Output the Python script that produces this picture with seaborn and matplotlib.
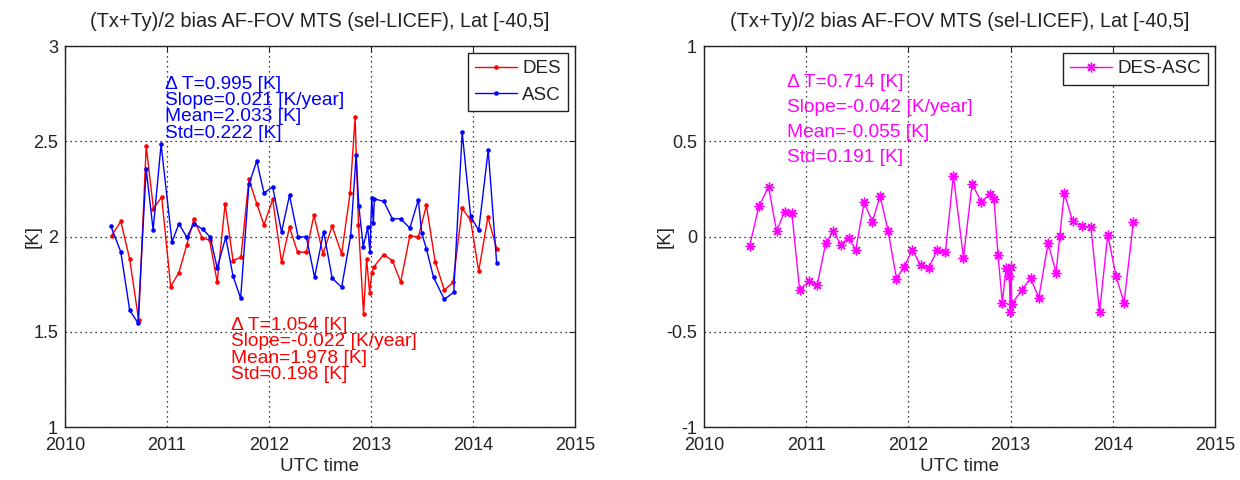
import matplotlib
matplotlib.use("Agg")
import matplotlib.pyplot as plt
import seaborn as sns
import pandas as pd

# ---------------- data ----------------
des_t = [2010.456, 2010.547, 2010.634, 2010.722, 2010.796, 2010.867, 2010.948,
         2011.036, 2011.117, 2011.194, 2011.262, 2011.346, 2011.417, 2011.492, 2011.570,
         2011.647, 2011.725, 2011.803, 2011.880, 2011.951,
         2012.036, 2012.123, 2012.201, 2012.280, 2012.366, 2012.440, 2012.530, 2012.619,
         2012.712, 2012.795, 2012.844, 2012.877, 2012.927, 2012.957, 2012.987,
         2013.007, 2013.026, 2013.123, 2013.209, 2013.291, 2013.381, 2013.464, 2013.543,
         2013.629, 2013.719, 2013.805, 2013.894, 2013.977,
         2014.056, 2014.146, 2014.235]
des_v = [2.005, 2.079, 1.882, 1.561, 2.475, 2.146, 2.207, 1.737, 1.811, 1.956,
         2.091, 1.991, 1.982, 1.761, 2.172, 1.874, 1.891, 2.300, 2.172, 2.061,
         2.195, 1.865, 2.049, 1.918, 1.918, 2.111, 1.909, 2.054, 1.909, 2.228,
         2.625, 2.061, 1.593, 1.882, 1.704, 1.807, 1.839, 1.905, 1.874, 1.761,
         2.005, 1.996, 2.163, 1.868, 1.719, 1.760, 2.149, 2.084, 1.818, 2.102,
         1.932]

asc_t = [2010.450, 2010.547, 2010.634, 2010.715, 2010.796, 2010.864, 2010.942,
         2011.049, 2011.117, 2011.194, 2011.265, 2011.353, 2011.424, 2011.492, 2011.576,
         2011.647, 2011.722, 2011.803, 2011.880, 2011.951,
         2012.036, 2012.123, 2012.201, 2012.285, 2012.366, 2012.447, 2012.536, 2012.619,
         2012.712, 2012.801, 2012.854, 2012.881, 2012.924, 2012.967, 2012.990,
         2013.007, 2013.023, 2013.033, 2013.126, 2013.209, 2013.291, 2013.381, 2013.464,
         2013.497, 2013.543, 2013.613, 2013.719, 2013.811, 2013.894, 2013.977,
         2014.056, 2014.149, 2014.232]
asc_v = [2.054, 1.919, 1.614, 1.546, 2.353, 2.035, 2.484, 1.972, 2.067, 1.996,
         2.067, 2.037, 1.996, 1.835, 1.996, 1.793, 1.675, 2.274, 2.396, 2.228,
         2.260, 2.023, 2.216, 1.998, 1.998, 1.786, 2.026, 1.782, 1.733, 2.005,
         2.426, 2.158, 1.947, 2.049, 1.918, 2.204, 2.070, 2.198, 2.184, 2.093,
         2.093, 2.044, 2.193, 2.019, 1.935, 1.786, 1.670, 1.707, 2.546, 2.105,
         2.032, 2.453, 1.861]

diff_t = [2010.446, 2010.537, 2010.632, 2010.710, 2010.788, 2010.860, 2010.935,
          2011.029, 2011.107, 2011.192, 2011.264, 2011.339, 2011.414, 2011.485, 2011.567,
          2011.648, 2011.723, 2011.801, 2011.883, 2011.958,
          2012.039, 2012.121, 2012.199, 2012.280, 2012.362, 2012.440, 2012.539, 2012.623,
          2012.714, 2012.799, 2012.838, 2012.877, 2012.919, 2012.955, 2012.987, 2012.997,
          2013.006, 2013.010, 2013.114, 2013.195, 2013.276, 2013.367, 2013.445, 2013.481,
          2013.526, 2013.607, 2013.698, 2013.786, 2013.870, 2013.951,
          2014.032, 2014.110, 2014.201]
diff_v = [-0.052, 0.159, 0.261, 0.028, 0.131, 0.122, -0.279, -0.235, -0.256, -0.033,
          0.028, -0.042, -0.007, -0.070, 0.179, 0.078, 0.214, 0.031, -0.221, -0.160,
          -0.070, -0.152, -0.164, -0.073, -0.082, 0.319, -0.111, 0.275, 0.183, 0.223,
          0.195, -0.099, -0.347, -0.166, -0.207, -0.395, -0.160, -0.355, -0.279, -0.218,
          -0.321, -0.035, -0.190, 0.005, 0.228, 0.080, 0.054, 0.049, -0.395, 0.009,
          -0.209, -0.348, 0.075]

title = "(Tx+Ty)/2 bias AF-FOV MTS (sel-LICEF), Lat [-40,5]"
xlabel = "UTC time"
ylabel = "[K]"
xticks = [2010, 2011, 2012, 2013, 2014, 2015]
yticks_left = [1, 1.5, 2, 2.5, 3]
yticks_right = [-1, -0.5, 0, 0.5, 1]
asc_stats = ["\u0394 T=0.995 [K]", "Slope=0.021 [K/year]", "Mean=2.033 [K]", "Std=0.222 [K]"]
des_stats = ["\u0394 T=1.054 [K]", "Slope=-0.022 [K/year]", "Mean=1.978 [K]", "Std=0.198 [K]"]
diff_stats = ["\u0394 T=0.714 [K]", "Slope=-0.042 [K/year]", "Mean=-0.055 [K]", "Std=0.191 [K]"]

# ---------------- style ----------------
sns.set_theme(style="white")
plt.rcParams["font.family"] = ["Liberation Sans", "DejaVu Sans"]
plt.rcParams["font.size"] = 13
plt.rcParams["axes.edgecolor"] = "#222222"
plt.rcParams["axes.linewidth"] = 1.0
plt.rcParams["text.color"] = "#222222"
plt.rcParams["xtick.color"] = "#222222"
plt.rcParams["ytick.color"] = "#222222"

fig = plt.figure(figsize=(12.4, 4.8), dpi=100)
axL = fig.add_axes([65 / 1240, 53 / 480, 510 / 1240, 381 / 480])
axR = fig.add_axes([704 / 1240, 53 / 480, 511 / 1240, 381 / 480])

df_des = pd.DataFrame({"t": des_t, "v": des_v})
df_asc = pd.DataFrame({"t": asc_t, "v": asc_v})
df_diff = pd.DataFrame({"t": diff_t, "v": diff_v})

sns.lineplot(data=df_des, x="t", y="v", ax=axL, sort=False, estimator=None,
             color="#ff0000", lw=1.0, marker="o", markersize=3.3, markeredgewidth=0,
             label="DES")
sns.lineplot(data=df_asc, x="t", y="v", ax=axL, sort=False, estimator=None,
             color="#0000ff", lw=1.0, marker="o", markersize=3.3, markeredgewidth=0,
             label="ASC")
sns.lineplot(data=df_diff, x="t", y="v", ax=axR, sort=False, estimator=None,
             color="#ff00ff", lw=1.0, marker=(8, 2, 0), markersize=7,
             markeredgewidth=1.0, markeredgecolor="#ff00ff", label="DES-ASC")


def style_axes(ax, yticks, ylim, ylab_x):
    ax.set_xlim(2010, 2015)
    ax.set_ylim(*ylim)
    ax.set_xticks(xticks)
    ax.set_xticklabels([str(x) for x in xticks])
    ax.set_yticks(yticks)
    ax.set_yticklabels([("%g" % y) for y in yticks])
    ax.grid(True, color="black", linestyle=(0, (1, 3)), linewidth=0.9)
    ax.tick_params(direction="in", top=True, right=True, length=4, width=0.8,
                   labelsize=13)
    ax.tick_params(axis="x", pad=7)
    ax.tick_params(axis="y", pad=5)
    ax.set_title(title, fontsize=14.3, pad=14, color="#222222")
    ax.set_xlabel(xlabel, fontsize=13.5, labelpad=3)
    ax.set_ylabel(ylabel, fontsize=13.5)
    ax.yaxis.set_label_coords(ylab_x, 0.5)
    for s in ax.spines.values():
        s.set_visible(True)
        s.set_color("#222222")
    leg = ax.legend(loc="upper right", fontsize=13.5, frameon=True, fancybox=False,
                    framealpha=1, edgecolor="#222222", borderaxespad=0.35,
                    handlelength=2.2, handletextpad=0.3, labelspacing=0.5,
                    borderpad=0.4)
    leg.get_frame().set_linewidth(1.0)


style_axes(axL, yticks_left, (1, 3), -0.046)
style_axes(axR, yticks_right, (-1, 1), -0.060)

# annotations
for s, y in zip(asc_stats, [2.80, 2.714, 2.628, 2.542]):
    axL.text(2010.98, y, s, color="#0000ff", fontsize=13.8, va="center", ha="left")
for s, y in zip(des_stats, [1.534, 1.448, 1.362, 1.276]):
    axL.text(2011.63, y, s, color="#ff0000", fontsize=13.8, va="center", ha="left")
for s, y in zip(diff_stats, [0.808, 0.677, 0.546, 0.415]):
    axR.text(2010.81, y, s, color="#ff00ff", fontsize=13.8, va="center", ha="left")

fig.savefig("out.png", dpi=100)
